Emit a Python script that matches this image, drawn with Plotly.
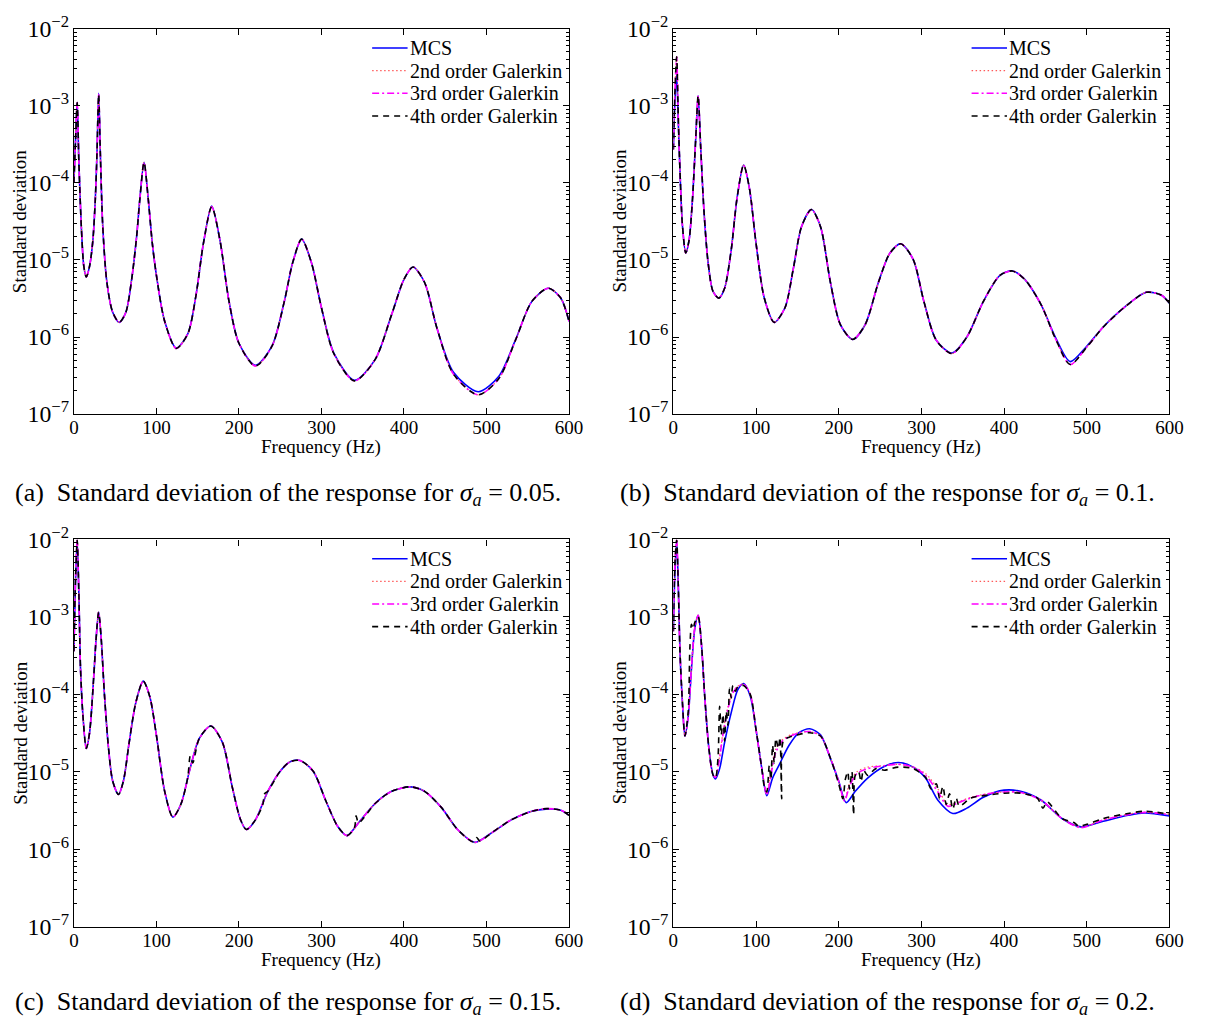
import plotly.graph_objects as go

# ---------------- panel (a): sigma_a = 0.05 ----------------
freq_a = [0, 2, 4, 6, 9, 12, 15, 19, 23, 26, 28, 30, 32, 35, 40, 47, 55, 63, 70, 76, 80, 85, 90, 95,
          100, 110, 124, 138, 148, 157, 167, 177, 188, 200, 220, 240, 255, 265, 276, 288, 300, 315,
          340, 365, 385, 400, 411, 425, 440, 460, 490, 515, 535, 555, 575, 590, 600]
mcs_a = [1.0e-4, 3.6e-4, 1.1e-3, 1.9e-4, 2.7e-5, 8.3e-6, 6.0e-6, 8.3e-6, 1.8e-5, 6.3e-5, 2.5e-4, 1.45e-3,
         2.5e-4, 2.7e-5, 5.1e-6, 2.1e-6, 1.55e-6, 2.1e-6, 5.6e-6, 2.0e-5, 6.3e-5, 1.85e-4, 6.3e-5, 1.65e-5,
         6.3e-6, 1.6e-6, 7.2e-7, 1.1e-6, 3.5e-6, 1.65e-5, 5.0e-5, 1.8e-5, 2.9e-6, 8.3e-7, 4.3e-7, 7.6e-7,
         2.9e-6, 9.1e-6, 1.86e-5, 9.1e-6, 2.4e-6, 6.2e-7, 2.75e-7, 5.1e-7, 1.95e-6, 5.6e-6, 8.1e-6, 5.1e-6,
         1.3e-6, 3.5e-7, 1.95e-7, 3.1e-7, 9.1e-7, 2.9e-6, 4.3e-6, 3.2e-6, 1.6e-6]
galerkin_a = [1.0e-4, 3.6e-4, 1.1e-3, 1.9e-4, 2.7e-5, 8.3e-6, 6.0e-6, 8.3e-6, 1.8e-5, 6.3e-5, 2.5e-4, 1.4e-3,
              2.5e-4, 2.7e-5, 5.1e-6, 2.1e-6, 1.55e-6, 2.1e-6, 5.6e-6, 2.0e-5, 6.3e-5, 1.85e-4, 6.3e-5, 1.65e-5,
              6.3e-6, 1.6e-6, 7.1e-7, 1.1e-6, 3.5e-6, 1.65e-5, 4.9e-5, 1.8e-5, 2.9e-6, 8.3e-7, 4.2e-7, 7.6e-7,
              2.9e-6, 9.1e-6, 1.86e-5, 9.1e-6, 2.4e-6, 6.1e-7, 2.7e-7, 5.1e-7, 1.95e-6, 5.6e-6, 8.1e-6, 5.1e-6,
              1.3e-6, 3.3e-7, 1.78e-7, 2.9e-7, 9.0e-7, 2.9e-6, 4.3e-6, 3.2e-6, 1.6e-6]

# ---------------- panel (b): sigma_a = 0.1 ----------------
freq_b = [0, 2, 4, 6, 8, 11, 15, 19, 23, 27, 30, 33, 37, 42, 48, 55, 62, 70, 77, 85, 92, 100, 110, 122,
          135, 145, 155, 167, 178, 190, 202, 217, 232, 248, 262, 275, 290, 303, 318, 337, 355, 375, 395,
          410, 425, 445, 462, 480, 500, 520, 545, 572, 590, 600]
mcs_b = [2.7e-4, 1.2e-3, 2.5e-3, 6.0e-4, 1.45e-4, 2.8e-5, 1.23e-5, 1.8e-5, 5.8e-5, 3.6e-4, 1.35e-3, 3.0e-4,
         4.4e-5, 9.3e-6, 3.9e-6, 3.2e-6, 4.3e-6, 1.35e-5, 6.3e-5, 1.7e-4, 8.5e-5, 1.65e-5, 3.2e-6, 1.55e-6,
         2.4e-6, 7.6e-6, 2.7e-5, 4.5e-5, 2.7e-5, 5.1e-6, 1.45e-6, 9.3e-7, 1.45e-6, 5.1e-6, 1.23e-5, 1.62e-5,
         1.02e-5, 2.9e-6, 9.1e-7, 6.2e-7, 1.0e-6, 2.9e-6, 6.3e-6, 7.2e-6, 5.6e-6, 2.6e-6, 1.0e-6, 4.8e-7,
         7.6e-7, 1.35e-6, 2.4e-6, 3.8e-6, 3.5e-6, 2.75e-6]
galerkin_b = [2.7e-4, 1.6e-3, 4.3e-3, 7.0e-4, 1.45e-4, 2.8e-5, 1.23e-5, 1.8e-5, 5.8e-5, 3.6e-4, 1.35e-3, 3.0e-4,
              4.4e-5, 9.3e-6, 3.9e-6, 3.2e-6, 4.3e-6, 1.35e-5, 6.3e-5, 1.7e-4, 8.5e-5, 1.65e-5, 3.2e-6, 1.55e-6,
              2.4e-6, 7.6e-6, 2.7e-5, 4.5e-5, 2.7e-5, 5.1e-6, 1.45e-6, 9.3e-7, 1.45e-6, 5.1e-6, 1.23e-5, 1.62e-5,
              1.02e-5, 2.9e-6, 9.1e-7, 6.1e-7, 1.0e-6, 2.9e-6, 6.3e-6, 7.2e-6, 5.6e-6, 2.6e-6, 9.6e-7, 4.4e-7,
              7.4e-7, 1.35e-6, 2.4e-6, 3.8e-6, 3.5e-6, 2.75e-6]

# ---------------- panel (c): sigma_a = 0.15 ----------------
freq_c = [0, 2, 4, 6, 8, 11, 15, 19, 24, 27, 30, 33, 37, 42, 47, 54, 60, 67, 75, 84, 92, 100, 110, 120,
          130, 140, 152, 166, 180, 192, 202, 209, 220, 235, 250, 262, 274, 290, 305, 320, 331, 345, 365,
          385, 408, 425, 445, 465, 486, 505, 530, 555, 572, 590, 600]
mcs_c = [3.6e-4, 3.0e-3, 9.5e-3, 2.0e-3, 2.2e-4, 5.2e-5, 2.0e-5, 3.2e-5, 1.66e-4, 5.4e-4, 1.15e-3, 5.4e-4,
         1.0e-4, 2.0e-5, 7.6e-6, 5.1e-6, 7.6e-6, 2.4e-5, 7.8e-5, 1.48e-4, 9.3e-5, 2.95e-5, 5.6e-6, 2.6e-6,
         3.9e-6, 1.02e-5, 2.7e-5, 3.9e-5, 2.4e-5, 6.3e-6, 2.4e-6, 1.8e-6, 2.4e-6, 5.6e-6, 1.02e-5, 1.35e-5,
         1.4e-5, 1.02e-5, 4.3e-6, 1.95e-6, 1.5e-6, 2.2e-6, 3.9e-6, 5.6e-6, 6.4e-6, 5.6e-6, 3.5e-6, 1.8e-6,
         1.23e-6, 1.6e-6, 2.4e-6, 3.1e-6, 3.3e-6, 3.2e-6, 2.75e-6]
galerkin23_c = [3.6e-4, 3.2e-3, 9.8e-3, 2.0e-3, 2.2e-4, 5.2e-5, 2.0e-5, 3.2e-5, 1.66e-4, 5.4e-4, 1.15e-3, 5.4e-4,
                1.0e-4, 2.0e-5, 7.6e-6, 5.1e-6, 7.6e-6, 2.4e-5, 7.8e-5, 1.48e-4, 9.3e-5, 2.95e-5, 5.6e-6, 2.6e-6,
                3.9e-6, 1.02e-5, 2.7e-5, 3.9e-5, 2.4e-5, 6.3e-6, 2.4e-6, 1.8e-6, 2.4e-6, 5.6e-6, 1.02e-5, 1.35e-5,
                1.4e-5, 1.02e-5, 4.3e-6, 1.95e-6, 1.5e-6, 2.2e-6, 3.9e-6, 5.6e-6, 6.4e-6, 5.6e-6, 3.5e-6, 1.8e-6,
                1.23e-6, 1.6e-6, 2.4e-6, 3.1e-6, 3.35e-6, 3.2e-6, 2.75e-6]
freq4_c = [0, 2, 4, 6, 8, 11, 15, 19, 24, 27, 30, 33, 37, 42, 47, 54, 60, 67, 75, 84, 92, 100, 110, 120,
           130, 138, 141, 144, 152, 166, 180, 192, 202, 209, 220, 229, 231, 235, 250, 262, 274, 290, 305, 320,
           331, 340, 342, 345, 365, 385, 408, 425, 445, 465, 484, 488, 492, 505, 530, 555, 572, 590, 600]
galerkin4_c = [3.6e-4, 3.2e-3, 9.8e-3, 2.0e-3, 2.2e-4, 5.2e-5, 2.0e-5, 3.2e-5, 1.66e-4, 5.4e-4, 1.15e-3, 5.4e-4,
               1.0e-4, 2.0e-5, 7.6e-6, 5.1e-6, 7.6e-6, 2.4e-5, 7.8e-5, 1.48e-4, 9.3e-5, 2.95e-5, 5.6e-6, 2.6e-6,
               3.9e-6, 8.5e-6, 1.6e-5, 1.3e-5, 2.7e-5, 3.9e-5, 2.4e-5, 6.3e-6, 2.4e-6, 1.8e-6, 2.4e-6, 3.8e-6,
               5.2e-6, 5.6e-6, 1.02e-5, 1.35e-5, 1.4e-5, 1.02e-5, 4.3e-6, 1.95e-6, 1.5e-6, 1.9e-6, 2.7e-6, 2.2e-6,
               3.9e-6, 5.6e-6, 6.4e-6, 5.6e-6, 3.5e-6, 1.8e-6, 1.25e-6, 1.42e-6, 1.28e-6, 1.6e-6, 2.4e-6, 3.1e-6,
               3.35e-6, 3.2e-6, 2.75e-6]

# ---------------- panel (d): sigma_a = 0.2 ----------------
freq_d = [0, 2, 4, 6, 8, 11, 14, 18, 22, 26, 30, 34, 38, 43, 48, 51, 56, 62, 70, 78, 85, 93, 100, 107, 113,
          120, 128, 140, 152, 165, 178, 190, 200, 209, 220, 235, 255, 272, 290, 305, 320, 338, 355, 375, 400,
          420, 445, 470, 493, 520, 550, 570, 600]
mcs_d = [6.5e-4, 4.0e-3, 9.5e-3, 2.5e-3, 3.6e-4, 7.8e-5, 2.9e-5, 5.2e-5, 2.2e-4, 7.1e-4, 1.05e-3, 4.4e-4,
         9.3e-5, 2.0e-5, 9.1e-6, 8.1e-6, 1.1e-5, 2.4e-5, 5.8e-5, 1.15e-4, 1.38e-4, 9.5e-5, 3.5e-5, 1.1e-5,
         4.9e-6, 8.3e-6, 1.23e-5, 2.2e-5, 3.2e-5, 3.6e-5, 3.0e-5, 1.48e-5, 7.6e-6, 4.0e-6, 5.6e-6, 8.3e-6,
         1.17e-5, 1.32e-5, 1.15e-5, 8.3e-6, 4.3e-6, 2.9e-6, 3.4e-6, 4.7e-6, 5.8e-6, 5.6e-6, 4.3e-6, 2.5e-6,
         1.95e-6, 2.3e-6, 2.75e-6, 2.95e-6, 2.7e-6]
freq3_d = [0, 2, 4, 6, 8, 11, 14, 18, 22, 26, 30, 34, 38, 43, 48, 51, 55, 60, 66, 72, 78, 85, 93, 100, 107,
           113, 118, 124, 132, 142, 152, 165, 178, 190, 200, 207, 213, 222, 235, 255, 272, 290, 305, 320, 332,
           345, 360, 380, 400, 420, 445, 470, 493, 520, 550, 570, 600]
galerkin3_d = [6.5e-4, 5.0e-3, 9.8e-3, 2.5e-3, 3.6e-4, 7.8e-5, 2.9e-5, 5.2e-5, 2.3e-4, 7.3e-4, 1.05e-3, 4.4e-4,
               9.3e-5, 2.0e-5, 9.1e-6, 8.5e-6, 1.3e-5, 3.0e-5, 6.5e-5, 1.05e-4, 1.25e-4, 1.35e-4, 1.0e-4, 3.5e-5,
               1.1e-5, 5.0e-6, 9.0e-6, 1.8e-5, 2.5e-5, 2.9e-5, 3.2e-5, 3.3e-5, 2.9e-5, 1.5e-5, 7.5e-6, 4.2e-6,
               6.5e-6, 9.5e-6, 1.1e-5, 1.2e-5, 1.25e-5, 1.15e-5, 9.0e-6, 5.5e-6, 3.6e-6, 4.0e-6, 4.6e-6, 5.2e-6,
               5.5e-6, 5.4e-6, 4.3e-6, 2.5e-6, 1.9e-6, 2.4e-6, 2.8e-6, 3.0e-6, 2.8e-6]
galerkin2_d = [6.5e-4, 5.0e-3, 9.8e-3, 2.5e-3, 3.6e-4, 7.8e-5, 2.9e-5, 5.2e-5, 2.3e-4, 7.3e-4, 1.05e-3, 4.4e-4,
               9.3e-5, 2.0e-5, 9.1e-6, 8.6e-6, 1.4e-5, 3.2e-5, 6.8e-5, 1.08e-4, 1.27e-4, 1.35e-4, 1.0e-4, 3.5e-5,
               1.1e-5, 5.2e-6, 1.0e-5, 2.0e-5, 2.6e-5, 3.0e-5, 3.2e-5, 3.3e-5, 2.9e-5, 1.5e-5, 7.5e-6, 4.4e-6,
               7.0e-6, 1.0e-5, 1.15e-5, 1.2e-5, 1.25e-5, 1.15e-5, 9.5e-6, 6.0e-6, 3.8e-6, 4.1e-6, 4.7e-6, 5.2e-6,
               5.5e-6, 5.4e-6, 4.3e-6, 2.5e-6, 1.95e-6, 2.4e-6, 2.85e-6, 3.0e-6, 2.85e-6]
freq4_d = [0, 2, 4, 6, 8, 11, 14, 18, 20, 22, 24, 26, 30, 34, 38, 43, 48, 51, 54, 56, 58, 60, 62, 64, 66,
           68, 70, 72, 75, 78, 85, 93, 100, 107, 110, 113, 116, 118, 120, 122, 124, 127, 129, 131, 133, 140,
           150, 165, 178, 190, 200, 205, 208, 211, 213, 216, 218, 220, 224, 227, 230, 235, 245, 255, 272, 290,
           305, 312, 318, 322, 326, 330, 334, 338, 342, 346, 360, 380, 400, 420, 440, 447, 452, 470, 485, 490,
           500, 520, 550, 570, 600]
galerkin4_d = [6.5e-4, 5.0e-3, 9.8e-3, 2.5e-3, 3.6e-4, 7.8e-5, 2.9e-5, 6.0e-5, 4.0e-4, 8.0e-4, 7.0e-4, 8.5e-4,
               1.0e-3, 4.4e-4, 9.3e-5, 2.0e-5, 9.1e-6, 8.3e-6, 1.5e-5, 7.0e-5, 3.0e-5, 5.5e-5, 2.5e-5, 6.0e-5,
               4.0e-5, 1.2e-4, 9.0e-5, 1.3e-4, 1.1e-4, 1.25e-4, 1.3e-4, 1.0e-4, 3.5e-5, 1.1e-5, 6.5e-6, 5.5e-6,
               1.2e-5, 8.0e-6, 2.2e-5, 1.3e-5, 2.7e-5, 2.0e-5, 2.8e-5, 4.5e-6, 2.5e-5, 2.8e-5, 3.0e-5, 3.2e-5,
               2.9e-5, 1.5e-5, 7.0e-6, 4.5e-6, 8.0e-6, 1.0e-5, 6.0e-6, 1.0e-5, 2.8e-6, 9.0e-6, 1.0e-5, 7.5e-6,
               1.05e-5, 9.0e-6, 1.1e-5, 1.05e-5, 1.15e-5, 1.1e-5, 8.5e-6, 6.0e-6, 7.0e-6, 4.5e-6, 6.5e-6, 3.8e-6,
               5.2e-6, 3.3e-6, 4.6e-6, 3.6e-6, 4.6e-6, 5.0e-6, 5.3e-6, 5.3e-6, 4.6e-6, 3.4e-6, 4.1e-6, 2.5e-6,
               2.2e-6, 2.0e-6, 2.1e-6, 2.5e-6, 2.9e-6, 3.1e-6, 2.85e-6]

series_names = ["MCS", "2nd order Galerkin", "3rd order Galerkin", "4th order Galerkin"]
x_title = "Frequency (Hz)"
y_title = "Standard deviation"
captions = ["(a)  Standard deviation of the response for <i>σ</i><sub><i>a</i></sub> = 0.05.",
            "(b)  Standard deviation of the response for <i>σ</i><sub><i>a</i></sub> = 0.1.",
            "(c)  Standard deviation of the response for <i>σ</i><sub><i>a</i></sub> = 0.15.",
            "(d)  Standard deviation of the response for <i>σ</i><sub><i>a</i></sub> = 0.2."]

# (x, y) pairs for every series in each panel: MCS, 2nd, 3rd, 4th
panels = [
    [(freq_a, mcs_a), (freq_a, galerkin_a), (freq_a, galerkin_a), (freq_a, galerkin_a)],
    [(freq_b, mcs_b), (freq_b, galerkin_b), (freq_b, galerkin_b), (freq_b, galerkin_b)],
    [(freq_c, mcs_c), (freq_c, galerkin23_c), (freq_c, galerkin23_c), (freq4_c, galerkin4_c)],
    [(freq_d, mcs_d), (freq3_d, galerkin2_d), (freq3_d, galerkin3_d), (freq4_d, galerkin4_d)],
]

line_styles = [
    dict(color="#0000ff", width=1.6, dash="solid"),
    dict(color="#ff5a5a", width=1.2, dash="1.5px,2.5px"),
    dict(color="#ff00ff", width=1.6, dash="7px,3px,2px,3px"),
    dict(color="#000000", width=1.6, dash="6px,5px"),
]

W, H = 1211, 1033
FONT = "Liberation Serif, Times New Roman, serif"

# panel plotting areas in pixels: (left, right, top, bottom)
boxes = [(70, 573, 12, 409), (679, 1183, 12, 409), (70, 573, 538, 937), (679, 1183, 538, 937)]
caption_pos = [(8, 491), (623, 491), (8, 1016), (623, 1016)]

fig = go.Figure()
layout = dict(width=W, height=H, margin=dict(l=0, r=0, t=0, b=0),
              paper_bgcolor="white", plot_bgcolor="white", showlegend=False,
              font=dict(family=FONT, color="black", size=18), annotations=[], shapes=[])

for p, (series, box) in enumerate(zip(panels, boxes)):
    k = "" if p == 0 else str(p + 1)
    for s, (xs, ys) in enumerate(series):
        fig.add_trace(go.Scatter(
            x=xs, y=ys, mode="lines", name=series_names[s],
            line=dict(shape="spline", smoothing=0.8, **line_styles[s]),
            xaxis="x" + k, yaxis="y" + k))
    l, r, t, b = box
    layout["xaxis" + k] = dict(
        domain=[l / W, r / W], anchor="y" + k, range=[0, 600], tickvals=[0, 100, 200, 300, 400, 500, 600],
        ticks="inside", ticklen=6, tickcolor="black", showline=True, linecolor="black", linewidth=1.3,
        mirror="ticks", showgrid=False, zeroline=False, tickfont=dict(size=19, family=FONT),
        ticklabelstandoff=-4)
    layout["yaxis" + k] = dict(
        domain=[1 - b / H, 1 - t / H], anchor="x" + k, type="log", range=[-7, -2], dtick=1,
        exponentformat="power", ticks="inside", ticklen=6, tickcolor="black", showline=True,
        linecolor="black", linewidth=1.3, mirror="ticks", showgrid=False, zeroline=False,
        minor=dict(ticks="inside", ticklen=3, tickcolor="black", dtick="D1", showgrid=False),
        tickfont=dict(size=19, family=FONT))

    # axis titles
    layout["annotations"].append(dict(
        text=x_title, x=(l + r) / 2 / W, y=1 - 443 / H if p < 2 else 1 - 971 / H,
        xref="paper", yref="paper", xanchor="center", yanchor="middle", showarrow=False,
        font=dict(size=19, family=FONT)))
    layout["annotations"].append(dict(
        text=y_title, x=(l - 55) / W, y=1 - (t + b) / 2 / H, textangle=-90,
        xref="paper", yref="paper", xanchor="center", yanchor="middle", showarrow=False,
        font=dict(size=19, family=FONT)))

    # legend in the upper right corner of the panel: short line sample followed by the name
    for s in range(4):
        yrow = t + 20 + 23.3 * s
        st = line_styles[s]
        layout["shapes"].append(dict(
            type="line", xref="paper", yref="paper",
            x0=(l + 303) / W, x1=(l + 339) / W, y0=1 - yrow / H, y1=1 - yrow / H,
            line=dict(color=st["color"], width=st["width"], dash=st["dash"])))
        layout["annotations"].append(dict(
            text=series_names[s], x=(l + 339) / W, y=1 - yrow / H, xref="paper", yref="paper",
            xanchor="left", yanchor="middle", showarrow=False, font=dict(size=20, family=FONT)))

    cx, cy = caption_pos[p]
    layout["annotations"].append(dict(
        text=captions[p], x=cx / W, y=1 - cy / H, xref="paper", yref="paper",
        xanchor="left", yanchor="middle", showarrow=False, font=dict(size=26, family=FONT)))

fig.update_layout(**layout)
fig.write_html("out.html")
